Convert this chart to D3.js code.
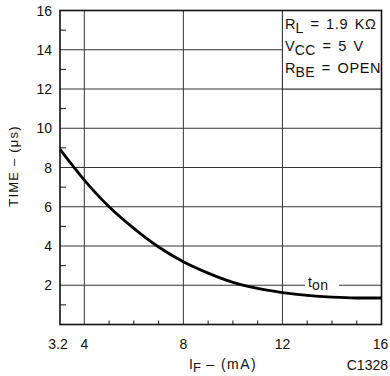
<!DOCTYPE html>
<html><head><meta charset="utf-8">
<script src="https://cdn.jsdelivr.net/npm/d3@7"></script>
<style>
body{margin:0;background:#fff;}
svg{display:block;font-family:"Liberation Sans",Arial,sans-serif;}
</style></head>
<body><svg id="c" width="390" height="376"></svg>
<script>
const currentMA = [3.2, 4, 5, 6, 7, 8, 9, 10, 11, 12, 13, 14, 15, 16];
const timeOnUs = [8.92, 7.36, 6.0, 4.9, 3.95, 3.2, 2.62, 2.15, 1.84, 1.63, 1.48, 1.39, 1.35, 1.35];
const xTicks = [3.2, 4, 8, 12, 16];
const xGrid = [4, 8, 12];
const xMinor = [5, 6, 7, 9, 10, 11, 13, 14, 15];
const yTicks = [2, 4, 6, 8, 10, 12, 14, 16];
const yMinor = [1, 3, 5, 7, 9, 11, 13, 15];

const svg = d3.select("#c");
const x = d3.scaleLinear().domain([3.2, 4, 16]).range([60, 84.3, 381.5]);
const y = d3.scaleLinear().domain([0, 16]).range([324.5, 10.5]);
const ink = "#111";

svg.append("g").selectAll("line").data(yTicks.filter(v => v < 16)).join("line")
  .attr("x1", x(3.2)).attr("x2", x(16))
  .attr("y1", d => y(d)).attr("y2", d => y(d))
  .attr("stroke", "#333").attr("stroke-width", 1);
svg.append("g").selectAll("line").data(xGrid).join("line")
  .attr("x1", d => x(d)).attr("x2", d => x(d))
  .attr("y1", y(0)).attr("y2", y(16))
  .attr("stroke", "#333").attr("stroke-width", 1);

svg.append("rect").attr("x", x(12)).attr("y", y(16))
  .attr("width", x(16) - x(12)).attr("height", y(12) - y(16)).attr("fill", "#fff");
svg.append("line").attr("x1", x(12)).attr("x2", x(12)).attr("y1", y(16)).attr("y2", y(12)).attr("stroke", "#333");
svg.append("line").attr("x1", x(12)).attr("x2", x(16)).attr("y1", y(12)).attr("y2", y(12)).attr("stroke", "#333");

svg.append("g").selectAll("line").data(yMinor).join("line")
  .attr("x1", x(3.2)).attr("x2", x(3.2) + 6)
  .attr("y1", d => y(d)).attr("y2", d => y(d))
  .attr("stroke", ink).attr("stroke-width", 1);
svg.append("g").selectAll("line").data(xMinor).join("line")
  .attr("x1", d => x(d)).attr("x2", d => x(d))
  .attr("y1", y(0)).attr("y2", y(0) - 4)
  .attr("stroke", ink).attr("stroke-width", 1);

svg.append("rect").attr("x", 305).attr("y", y(2) - 4).attr("width", 34).attr("height", 8).attr("fill", "#fff");
const ton = svg.append("text").attr("x", 308).attr("y", 287).attr("font-size", 14).attr("fill", ink);
ton.append("tspan").text("t");
ton.append("tspan").attr("dy", 3).attr("font-size", 14).attr("letter-spacing", 0.5).text("on");

const pts = currentMA.map((v, i) => [v, timeOnUs[i]]);
svg.append("path").datum(pts)
  .attr("d", d3.line().x(d => x(d[0])).y(d => y(d[1])).curve(d3.curveMonotoneX))
  .attr("fill", "none").attr("stroke", "#000").attr("stroke-width", 2.8);

svg.append("rect").attr("x", x(3.2)).attr("y", y(16))
  .attr("width", x(16) - x(3.2)).attr("height", y(0) - y(16))
  .attr("fill", "none").attr("stroke", ink).attr("stroke-width", 1.6);

svg.append("g").selectAll("text").data(yTicks).join("text")
  .attr("x", 52).attr("y", d => y(d) + 5)
  .attr("text-anchor", "end").attr("font-size", 14).attr("fill", ink)
  .text(d => d);
svg.append("g").selectAll("text").data(xTicks).join("text")
  .attr("x", d => x(d) + (d === 3.2 ? -2 : (d === 16 ? -1 : 0)))
  .attr("y", 349)
  .attr("text-anchor", "middle").attr("font-size", 14).attr("fill", ink)
  .text(d => d);

svg.append("text").attr("transform", "translate(18,166) rotate(-90)")
  .attr("text-anchor", "middle").attr("font-size", 13).attr("letter-spacing", 1.2).attr("fill", ink)
  .text("TIME – (μs)");

const xt = svg.append("text").attr("x", 189).attr("y", 369).attr("font-size", 14).attr("fill", ink);
xt.append("tspan").text("I");
xt.append("tspan").attr("dy", 3).attr("font-size", 13).text("F");
xt.append("tspan").attr("dy", -3).attr("letter-spacing", 1.5).text(" – (mA)");
svg.append("text").attr("x", 388).attr("y", 370).attr("text-anchor", "end")
  .attr("font-size", 14).attr("fill", ink).text("C1328");

const leg = [["R", "L", " = 1.9 KΩ", 29], ["V", "CC", " = 5 V", 51], ["R", "BE", " = OPEN", 73]];
leg.forEach(([a, sub, rest, yy]) => {
  const t = svg.append("text").attr("x", 285).attr("y", yy).attr("font-size", 14.5).attr("fill", ink);
  t.append("tspan").text(a);
  t.append("tspan").attr("dy", 4).attr("font-size", 14).attr("letter-spacing", 0.5).text(sub);
  t.append("tspan").attr("dy", -4).attr("letter-spacing", 0.6).attr("word-spacing", 2).text(rest);
});
</script></body></html>
